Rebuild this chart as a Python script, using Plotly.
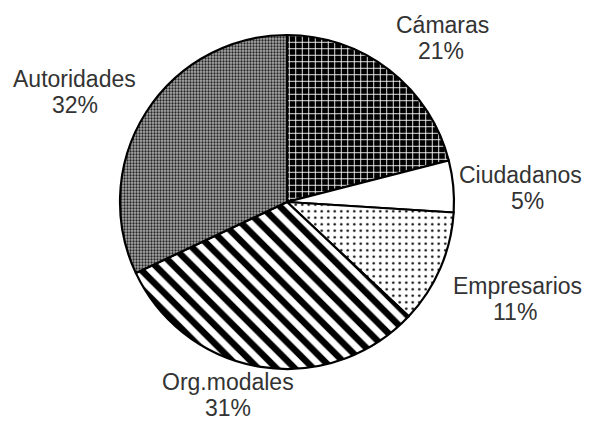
import plotly.graph_objects as go

labels = ["Cámaras", "Ciudadanos", "Empresarios", "Org.modales", "Autoridades"]
values = [21, 5, 11, 31, 32]

shapes = ["+", "", ".", "\\", "."]
fgcolors = ["white", "black", "black", "black", "#262626"]
bgcolors = ["black", "white", "white", "white", "#acacac"]
sizes = [6.5, 6, 6.5, 13, 3]
solidities = [0.25, 0.3, 0.12, 0.5, 0.45]

W, H = 592, 423
# label placement (pixel centres of each text line), layout only
name_xy = [(442, 25), (520, 175), (517, 286), (228, 382), (74, 79)]
pct_xy = [(441, 51), (527, 201), (515, 312), (228, 408), (75, 105)]

fig = go.Figure(go.Pie(
    labels=labels,
    values=values,
    sort=False,
    direction="clockwise",
    rotation=0,
    textinfo="none",
    marker=dict(
        colors=bgcolors,
        line=dict(color="black", width=2.2),
        pattern=dict(shape=shapes, fgcolor=fgcolors, bgcolor=bgcolors,
                     size=sizes, solidity=solidities, fillmode="replace"),
    ),
    domain=dict(x=[115/W, 459/W], y=[1-369/H, 1-35/H]),
    showlegend=False,
    hoverinfo="none",
))

font = dict(family="Liberation Sans, Arial", size=23, color="#333333")
for lab, val, (nx, ny), (px, py) in zip(labels, values, name_xy, pct_xy):
    fig.add_annotation(text=lab, x=nx/W, y=1-ny/H, xref="paper", yref="paper",
                       xanchor="center", yanchor="middle", showarrow=False,
                       font=font, borderpad=0)
    fig.add_annotation(text=f"{val}%", x=px/W, y=1-py/H, xref="paper", yref="paper",
                       xanchor="center", yanchor="middle", showarrow=False,
                       font=font, borderpad=0)

fig.update_layout(
    width=W, height=H,
    margin=dict(l=0, r=0, t=0, b=0),
    paper_bgcolor="white",
    plot_bgcolor="white",
    showlegend=False,
)

fig.write_html("out.html", config={"displayModeBar": False},
               post_script="document.body.style.margin='0';document.body.style.overflow='hidden';")
